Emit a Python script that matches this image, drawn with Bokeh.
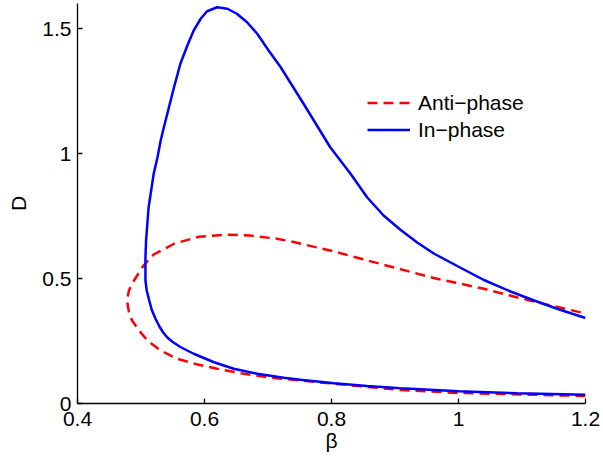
from bokeh.plotting import figure
from bokeh.models import Range1d, Legend, LegendItem, FixedTicker
from bokeh.embed import file_html
from bokeh.resources import INLINE

# Anti-phase branch (dashed red)
beta_anti = [1.2, 1.0, 0.909, 0.804, 0.751, 0.699, 0.657, 0.620, 0.589, 0.557, 0.531,
             0.510, 0.497, 0.486, 0.481, 0.478, 0.481, 0.489, 0.504, 0.520, 0.552,
             0.591, 0.633, 0.672, 0.714, 0.739, 0.804, 0.857, 0.961, 1.040, 1.093,
             1.119, 1.2]
D_anti = [0.030, 0.042, 0.054, 0.079, 0.092, 0.105, 0.121, 0.139, 0.156, 0.179, 0.212,
          0.252, 0.292, 0.332, 0.365, 0.412, 0.452, 0.492, 0.552, 0.596, 0.639,
          0.667, 0.675, 0.672, 0.659, 0.647, 0.608, 0.572, 0.502, 0.459, 0.424,
          0.408, 0.360]

# In-phase branch (solid blue)
beta_in = [1.2, 1.092, 1.0, 0.909, 0.856, 0.804, 0.751, 0.725, 0.683, 0.646, 0.615,
           0.583, 0.562, 0.550, 0.541, 0.535, 0.529, 0.523, 0.517, 0.513, 0.509,
           0.507, 0.507, 0.507, 0.508, 0.510, 0.512, 0.516, 0.520, 0.526, 0.531,
           0.536, 0.544, 0.552, 0.562, 0.573, 0.583, 0.594, 0.604, 0.620, 0.636,
           0.651, 0.667, 0.683, 0.701, 0.720, 0.738, 0.756, 0.777, 0.798, 0.830,
           0.856, 0.882, 0.909, 0.935, 0.961, 0.998, 1.040, 1.082, 1.119, 1.161, 1.2]
D_in = [0.035, 0.041, 0.049, 0.061, 0.070, 0.081, 0.095, 0.103, 0.119, 0.139, 0.165,
        0.199, 0.226, 0.246, 0.265, 0.284, 0.308, 0.338, 0.374, 0.412, 0.452,
        0.492, 0.520, 0.585, 0.652, 0.719, 0.785, 0.852, 0.919, 0.985, 1.052,
        1.105, 1.185, 1.265, 1.359, 1.432, 1.492, 1.539, 1.569, 1.585, 1.579,
        1.559, 1.525, 1.479, 1.412, 1.345, 1.272, 1.199, 1.112, 1.025, 0.919,
        0.825, 0.752, 0.694, 0.644, 0.600, 0.550, 0.494, 0.448, 0.412, 0.374, 0.342]

x_ticks = [0.4, 0.6, 0.8, 1.0, 1.2]
y_ticks = [0, 0.5, 1, 1.5]
x_tick_labels = {0.4: "0.4", 0.6: "0.6", 0.8: "0.8", 1.0: "1", 1.2: "1.2"}
y_tick_labels = {0: "0", 0.5: "0.5", 1: "1", 1.5: "1.5"}

FONT = "Liberation Sans"
FS = "21px"

p = figure(width=600, height=458, output_backend="svg", toolbar_location=None,
           x_range=Range1d(0.4, 1.2), y_range=Range1d(0, 1.6))
p.min_border_left = 77
p.min_border_right = 15
p.min_border_top = 3
p.min_border_bottom = 55
p.outline_line_color = None
p.grid.visible = False
p.background_fill_color = "white"
p.border_fill_color = "white"

r_anti = p.line(beta_anti, D_anti, line_color="#ff0000", line_width=2.5, line_dash="10 6")
r_in = p.line(beta_in, D_in, line_color="#0000ff", line_width=2.5)

for ax, ticks, labels in ((p.xaxis[0], x_ticks, x_tick_labels), (p.yaxis[0], y_ticks, y_tick_labels)):
    ax.ticker = FixedTicker(ticks=ticks)
    ax.major_label_overrides = labels
    ax.major_tick_in = 5
    ax.major_tick_out = 0
    ax.minor_tick_in = 0
    ax.minor_tick_out = 0
    ax.axis_line_color = "black"
    ax.axis_line_width = 1.3
    ax.major_tick_line_color = "black"
    ax.major_tick_line_width = 1.3
    ax.major_label_text_font = FONT
    ax.major_label_text_font_size = FS
    ax.major_label_text_color = "black"
    ax.axis_label_text_font = FONT
    ax.axis_label_text_font_size = FS
    ax.axis_label_text_font_style = "normal"
    ax.axis_label_text_color = "black"

p.xaxis[0].axis_label = "β"
p.yaxis[0].axis_label = "D"
p.xaxis[0].major_label_standoff = 8
p.xaxis[0].axis_label_standoff = 0
p.yaxis[0].major_label_standoff = 6
p.yaxis[0].axis_label_standoff = 9

legend = Legend(items=[LegendItem(label="Anti\u2212phase", renderers=[r_anti]),
                       LegendItem(label="In\u2212phase", renderers=[r_in])],
                location=(290, 260))
legend.border_line_color = None
legend.background_fill_alpha = 0
legend.padding = 0
legend.margin = 0
legend.spacing = 0
legend.glyph_width = 43
legend.glyph_height = 27
legend.label_height = 27
legend.label_standoff = 8
legend.label_text_font = FONT
legend.label_text_font_size = FS
legend.label_text_color = "black"
p.add_layout(legend)

open("out.html", "w").write(file_html(p, INLINE))
